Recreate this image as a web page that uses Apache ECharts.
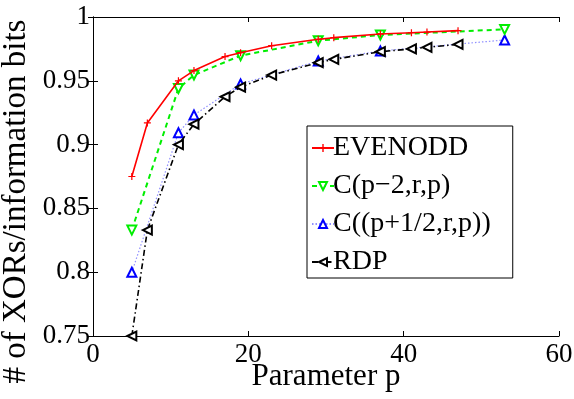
<!DOCTYPE html>
<html>
<head>
<meta charset="utf-8">
<script src="https://cdn.jsdelivr.net/npm/echarts@6/dist/echarts.min.js"></script>
<style>
  html, body { margin: 0; padding: 0; background: #fff; }
  #chart { width: 574px; height: 399px; }
</style>
</head>
<body>
<div id="chart"></div>
<script>
// values
const evenoddP = [5, 7, 11, 13, 17, 19, 23, 29, 31, 37, 41, 43, 47]
const evenoddY = [0.875, 0.917, 0.950, 0.958, 0.969, 0.972, 0.9775, 0.9825, 0.9838, 0.9867, 0.9877, 0.9882, 0.9893]

const cp2P = [5, 11, 13, 19, 29, 37, 53]
const cp2Y = [0.833, 0.944, 0.9545, 0.9697, 0.9814, 0.9859, 0.9903]

const chalfP = [5, 11, 13, 19, 29, 37, 53]
const chalfY = [0.800, 0.9093, 0.9232, 0.9475, 0.9655, 0.9734, 0.982]

const rdpP = [5, 7, 11, 13, 17, 19, 23, 29, 31, 37, 41, 43, 47]
const rdpY = [0.750, 0.833, 0.900, 0.916, 0.9375, 0.945, 0.9545, 0.9642, 0.9668, 0.9728, 0.975, 0.9762, 0.9786]

const FONT = '"Liberation Serif", "DejaVu Serif", serif'
const PLUS = 'path://M3.3,0H4.7V3.3H8V4.7H4.7V8H3.3V4.7H0V3.3H3.3Z'

const zip = (xs, ys) => xs.map((x, i) => [x, ys[i]])

const chart = echarts.init(document.getElementById('chart'))

const boxAxis = {
  axisLine: { show: true, lineStyle: { color: '#000', width: 1 } },
  axisTick: { show: true, inside: true, length: 5, lineStyle: { color: '#000' } },
  splitLine: { show: false },
}

chart.setOption({
  animation: false,
  backgroundColor: '#fff',
  grid: { left: 93, right: 15, top: 17, bottom: 63, outerBoundsMode: 'none', containLabel: false },
  legend: {
    orient: 'vertical',
    left: 307,
    top: 126,
    backgroundColor: '#fff',
    borderColor: '#000',
    borderWidth: 1,
    borderRadius: 0,
    padding: [8, 22, 2, 4],
    itemGap: 10,
    itemWidth: 22,
    itemHeight: 10,
    textStyle: { fontFamily: FONT, fontSize: 28, color: '#000', padding: [0, 0, 0, -6] },
    data: ['EVENODD', 'C(p\u22122,r,p)', 'C((p+1/2,r,p))', 'RDP'],
  },
  xAxis: [
    {
      type: 'value', min: 0, max: 60, interval: 20,
      name: 'Parameter p', nameLocation: 'middle', nameGap: 25, nameMoveOverlap: false,
      nameTextStyle: { fontFamily: FONT, fontSize: 31, color: '#000' },
      axisLabel: { fontFamily: FONT, fontSize: 27, color: '#000', margin: 5 },
      ...boxAxis,
    },
    {
      type: 'value', min: 0, max: 60, interval: 20, position: 'top',
      axisLabel: { show: false },
      ...boxAxis,
    },
  ],
  yAxis: [
    {
      type: 'value', min: 0.75, max: 1, interval: 0.05,
      name: '# of XORs/information bits', nameLocation: 'middle', nameGap: 60, nameMoveOverlap: false,
      nameTextStyle: { fontFamily: FONT, fontSize: 33, color: '#000', padding: [0, 50, 0, 0] },
      axisLabel: { fontFamily: FONT, fontSize: 27, color: '#000', margin: 3 },
      ...boxAxis,
    },
    {
      type: 'value', min: 0.75, max: 1, interval: 0.05, position: 'right',
      axisLabel: { show: false },
      ...boxAxis,
    },
  ],
  series: [
    {
      name: 'EVENODD', type: 'line', data: zip(evenoddP, evenoddY),
      symbol: PLUS, symbolSize: 7,
      itemStyle: { color: '#ff0000' },
      lineStyle: { color: '#ff0000', width: 1.6 },
      z: 5,
    },
    {
      name: 'C(p\u22122,r,p)', type: 'line', data: zip(cp2P, cp2Y),
      symbol: 'emptyTriangle', symbolRotate: 180, symbolSize: 9,
      itemStyle: { color: '#00ee00', borderWidth: 1.5 },
      lineStyle: { color: '#00ee00', width: 2, type: [5, 4] },
      z: 4,
    },
    {
      name: 'C((p+1/2,r,p))', type: 'line', data: zip(chalfP, chalfY),
      symbol: 'emptyTriangle', symbolSize: 9,
      itemStyle: { color: '#0000ff', borderWidth: 1.5 },
      lineStyle: { color: '#9090ff', width: 1.2, type: [1.5, 2] },
      z: 3,
    },
    {
      name: 'RDP', type: 'line', data: zip(rdpP, rdpY),
      symbol: 'emptyTriangle', symbolRotate: 90, symbolSize: 9,
      itemStyle: { color: '#000', borderWidth: 1.5 },
      lineStyle: { color: '#000', width: 1.6, type: [6, 3, 1.5, 3] },
      z: 6,
    },
  ],
})
</script>
</body>
</html>
